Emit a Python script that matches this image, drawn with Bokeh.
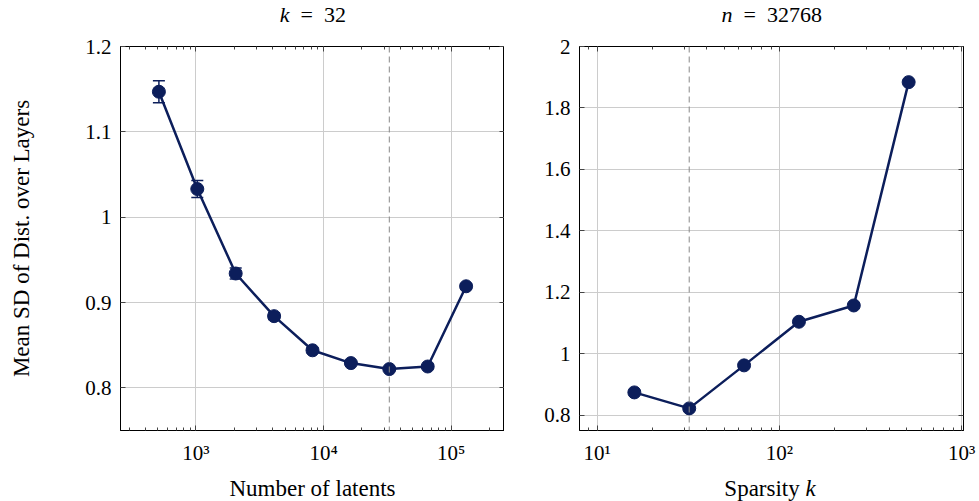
import numpy as np
from bokeh.plotting import figure
from bokeh.layouts import row, column
from bokeh.models import (FixedTicker, LogAxis, LinearAxis, Whisker, ColumnDataSource,
                          Span, CustomJSTickFormatter, Range1d)
from bokeh.core.properties import value
from bokeh.embed import file_html
from bokeh.resources import INLINE

# ---- data ----
latents = [512, 1024, 2048, 4096, 8192, 16384, 32768, 65536, 131072]
sd_latents = [1.147, 1.033, 0.934, 0.884, 0.844, 0.829, 0.822, 0.825, 0.919]
err_latents = [0.013, 0.010, 0.0065, 0.004, 0.003, 0.002, 0.002, 0.002, 0.003]

sparsity = [16, 32, 64, 128, 256, 512]
sd_sparsity = [0.874, 0.822, 0.962, 1.104, 1.157, 1.884]

left_title = ("k", "\u2002=\u200232")
right_title = ("n", "\u2002=\u200232768")
left_xlabel = "Number of latents"
right_xlabel = ("Sparsity ", "k")
ylabel = "Mean SD of Dist. over Layers"
left_yticks = [0.8, 0.9, 1.0, 1.1, 1.2]
right_yticks = [0.8, 1.0, 1.2, 1.4, 1.6, 1.8, 2.0]
left_xticks = [1e3, 1e4, 1e5]
right_xticks = [1e1, 1e2, 1e3]
chosen_latents = 32768
chosen_k = 32

NAVY = "#0c1e5b"
FONT = "Liberation Serif"
GRID = "#cccccc"

LW, RW = 504, 475      # widths of left / right columns
TOP_H, MAIN_T, MAIN_B, BOT_H = 34, 12, 44, 27

sup_fmt = CustomJSTickFormatter(code="""
const sup = {'0':'\u2070','1':'\u00b9','2':'\u00b2','3':'\u00b3','4':'\u2074','5':'\u2075','6':'\u2076','7':'\u2077','8':'\u2078','9':'\u2079','-':'\u207b'};
const e = Math.round(Math.log10(tick));
return '10' + String(e).split('').map(c => sup[c]).join('');
""")

ynum_fmt = CustomJSTickFormatter(code="""
let s = tick.toFixed(1);
if (s.endsWith('.0')) s = s.slice(0, -2);
return s;
""")

blank_fmt = CustomJSTickFormatter(code="return '';")


def minor_log(lo_exp, hi_exp, lo, hi):
    m = []
    for e in range(lo_exp, hi_exp + 1):
        for d in range(1, 10):
            v = d * 10 ** e
            if lo <= v <= hi:
                m.append(v)
    return m


def make_fig(xr, yr, xticks, minor, yticks, border_left, border_right):
    p = figure(x_axis_type="log", x_range=Range1d(*xr), y_range=Range1d(*yr),
               frame_width=384, frame_height=384,
               min_border_left=border_left, min_border_right=border_right,
               min_border_top=MAIN_T, min_border_bottom=MAIN_B,
               output_backend="svg", toolbar_location=None,
               background_fill_color="white", border_fill_color="white")
    p.outline_line_color = "black"
    p.outline_line_width = 1
    xt = FixedTicker(ticks=xticks, minor_ticks=minor)
    yt = FixedTicker(ticks=yticks, minor_ticks=[])
    bottom = p.below[0]
    left = p.left[0]
    bottom.ticker = xt
    bottom.formatter = sup_fmt
    left.ticker = yt
    left.formatter = ynum_fmt
    top = LogAxis(ticker=xt, formatter=blank_fmt, major_label_standoff=0)
    right = LinearAxis(ticker=yt, formatter=blank_fmt, major_label_standoff=0)
    p.add_layout(top, "above")
    p.add_layout(right, "right")
    for ax in [bottom, left, top, right]:
        ax.axis_line_color = "black"
        ax.axis_line_width = 1
        ax.major_tick_in = 5
        ax.major_tick_out = 0
        ax.minor_tick_in = 3
        ax.minor_tick_out = 0
        ax.major_tick_line_color = "#444444"
        ax.minor_tick_line_color = "#444444"
        ax.major_label_text_font = FONT
        ax.major_label_text_color = "black"
        ax.axis_label_text_font = FONT
        ax.axis_label_text_font_style = "normal"
        ax.axis_label_text_color = "black"
    bottom.major_label_text_font_size = "21px"
    left.major_label_text_font_size = "21px"
    bottom.major_label_standoff = 10
    left.major_label_standoff = 9
    p.xgrid.ticker = xt
    p.ygrid.ticker = yt
    p.grid.grid_line_color = GRID
    p.grid.grid_line_width = 1
    return p, bottom, left


def text_fig(w, h):
    t = figure(width=w, height=h, x_range=Range1d(0, w), y_range=Range1d(0, h),
               min_border=0, x_axis_location=None, y_axis_location=None,
               toolbar_location=None, output_backend="svg",
               background_fill_color="white", border_fill_color="white")
    t.outline_line_color = None
    t.grid.visible = False
    return t


def two_part(t, x0, y, parts, italic_idx, size):
    a, b = parts
    t.text(x=[x0], y=[y], text=[a], text_font=value(FONT),
           text_font_style="italic" if italic_idx == 0 else "normal",
           text_font_size=size, text_align="right", text_baseline="middle", text_color="black")
    t.text(x=[x0], y=[y], text=[b], text_font=value(FONT),
           text_font_style="italic" if italic_idx == 1 else "normal",
           text_font_size=size, text_align="left", text_baseline="middle", text_color="black")


# ---- left ----
lx = (256, 262144)
ly = (0.75, 1.2)
pl, pl_b, pl_l = make_fig(lx, ly, left_xticks, minor_log(2, 5, lx[0], lx[1]), left_yticks, 120, 0)
pl_l.axis_label = ylabel
pl_l.axis_label_text_font_size = "23px"
pl_l.axis_label_standoff = 48

pl.add_layout(Span(location=chosen_latents, dimension="height", line_color="#888888",
                   line_dash="6 4", line_width=1))
src_l = ColumnDataSource(dict(x=latents, y=sd_latents,
                              lo=[v - e for v, e in zip(sd_latents, err_latents)],
                              hi=[v + e for v, e in zip(sd_latents, err_latents)]))
pl.line("x", "y", source=src_l, line_color=NAVY, line_width=2.5)
wh = Whisker(base="x", lower="lo", upper="hi", source=src_l, line_color=NAVY, line_width=1.5)
for h in (wh.upper_head, wh.lower_head):
    h.line_color = NAVY
    h.size = 12
    h.line_width = 1.5
pl.add_layout(wh)
pl.scatter("x", "y", source=src_l, size=13, fill_color=NAVY, line_color=NAVY)

# ---- right ----
rx = (8, 1024)
ry = (0.75, 2.0)
pr, pr_b, pr_l = make_fig(rx, ry, right_xticks, minor_log(0, 3, rx[0], rx[1]), right_yticks, 75, 16)
pr.add_layout(Span(location=chosen_k, dimension="height", line_color="#888888",
                   line_dash="6 4", line_width=1))
pr.line(sparsity, sd_sparsity, line_color=NAVY, line_width=2.5)
pr.scatter(sparsity, sd_sparsity, size=13, fill_color=NAVY, line_color=NAVY)

# ---- titles and bottom labels ----
tl = text_fig(LW, TOP_H)
two_part(tl, 289, TOP_H - 14, left_title, 0, "22px")
tr = text_fig(RW, TOP_H)
two_part(tr, 228, TOP_H - 14, right_title, 0, "22px")

bl = text_fig(LW, BOT_H)
bl.text(x=[312], y=[BOT_H - 14], text=[left_xlabel], text_font=value(FONT),
        text_font_size="23px", text_align="center", text_baseline="middle", text_color="black")
br = text_fig(RW, BOT_H)
two_part(br, 301, BOT_H - 14, right_xlabel, 1, "23px")

layout = column(row(tl, tr, spacing=0), row(pl, pr, spacing=0), row(bl, br, spacing=0), spacing=0)
open("out.html", "w").write(file_html(layout, INLINE))
